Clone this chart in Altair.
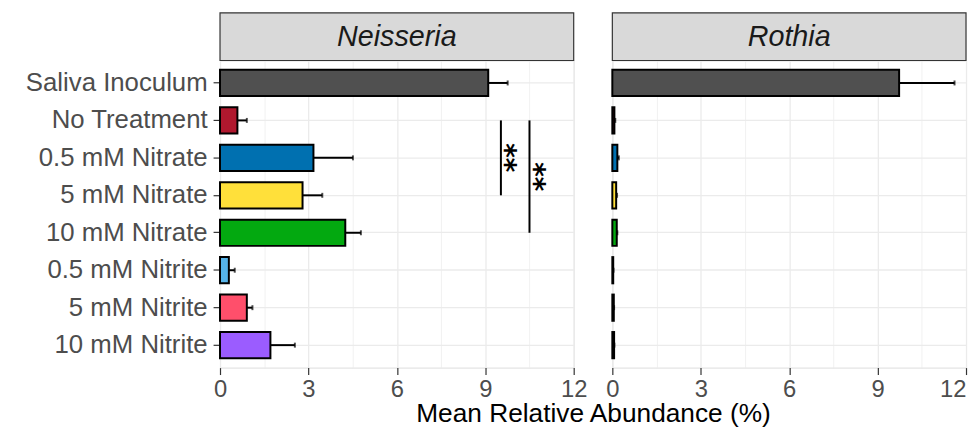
import altair as alt
import pandas as pd

categories = ["Saliva Inoculum", "No Treatment", "0.5 mM Nitrate", "5 mM Nitrate",
              "10 mM Nitrate", "0.5 mM Nitrite", "5 mM Nitrite", "10 mM Nitrite"]
colors = ["#505050", "#B0182E", "#0070B0", "#FFE03A", "#03A910", "#56B4E9", "#FF4F6B", "#9B5CFF"]

neisseria_mean = [9.10, 0.59, 3.17, 2.80, 4.25, 0.30, 0.91, 1.71]
neisseria_sd = [0.66, 0.32, 1.34, 0.67, 0.53, 0.20, 0.19, 0.83]
rothia_mean = [9.73, 0.07, 0.17, 0.13, 0.15, 0.03, 0.05, 0.06]
rothia_sd = [1.88, 0.03, 0.05, 0.03, 0.02, 0.01, 0.01, 0.01]

x_ticks = [0, 3, 6, 9, 12]
x_grid = [0, 1.5, 3, 4.5, 6, 7.5, 9, 10.5, 12]

sig_x = [9.53, 10.50]
sig_from = ["No Treatment", "No Treatment"]
sig_to = ["5 mM Nitrate", "10 mM Nitrate"]
star_x = [9.64, 10.62]
star_row = ["0.5 mM Nitrate", "0.5 mM Nitrate"]
star_label = ["**", "**"]

W, H = 357, 310
FONT = "Liberation Sans"


def frame(means, sds):
    return pd.DataFrame({
        "treatment": categories,
        "mean": means,
        "upper": [m + s for m, s in zip(means, sds)],
    })


yscale = alt.Scale(domain=categories, paddingInner=0.3, paddingOuter=0.25)
xscale = alt.Scale(domain=[0, 12], nice=False, zero=True)
cscale = alt.Scale(domain=categories, range=colors)


def xaxis(title=None, title_x=None, last_right=False):
    kw = dict(
        values=x_grid,
        labelExpr="datum.value % 3 === 0 ? datum.label : ''",
        format="d",
        grid=True,
        gridColor="#EBEBEB",
        gridWidth={"condition": {"test": "datum.value % 3 !== 0", "value": 0.7}, "value": 1.3},
        tickOpacity={"condition": {"test": "datum.value % 3 !== 0", "value": 0}, "value": 1},
        tickColor="#333333",
        tickWidth=1.2,
        tickSize=7,
        labelColor="#4D4D4D",
        labelFontSize=24,
        labelFont=FONT,
        labelPadding=3,
        labelFlush=False,
        domain=False,
    )
    if last_right:
        kw["labelAlign"] = {"condition": {"test": "datum.value === 12", "value": "right"}, "value": "center"}
    if title is not None:
        kw.update(title=title, titleX=title_x, titleY=46, titleBaseline="middle",
                  titleFontSize=26.5, titleFont=FONT, titleFontWeight="normal",
                  titleColor="#000000", titleAlign="center")
    else:
        kw.update(title=None)
    return alt.Axis(**kw)


def yaxis(show_labels):
    kw = dict(title=None, grid=True, gridColor="#EBEBEB", gridWidth=1.3, domain=False)
    if show_labels:
        kw.update(labels=True, ticks=True, tickColor="#333333", tickWidth=1.2, tickSize=7,
                  labelColor="#4D4D4D", labelFontSize=26, labelFont=FONT, labelPadding=6,
                  labelLimit=300, minExtent=205, maxExtent=205)
    else:
        kw.update(labels=False, ticks=False)
    return alt.Axis(**kw)


def panel(genus, means, sds, show_labels, title=None, title_x=None, extra=None, last_right=False):
    df = frame(means, sds)
    base = alt.Chart(df)
    y = alt.Y("treatment:N", scale=yscale, sort=categories, axis=yaxis(show_labels))
    bars = base.mark_bar(stroke="black", strokeWidth=2).encode(
        x=alt.X("mean:Q", scale=xscale, axis=xaxis(title, title_x, last_right)),
        y=y,
        fill=alt.Fill("treatment:N", scale=cscale, legend=None),
    )
    err = base.mark_rule(color="black", strokeWidth=2).encode(
        x="mean:Q", x2="upper:Q", y=alt.Y("treatment:N", sort=categories),
    )
    cap = base.mark_tick(color="black", thickness=2, size=5, orient="vertical").encode(
        x="upper:Q", y=alt.Y("treatment:N", sort=categories),
    )
    strip_df = pd.DataFrame({"genus": [genus]})
    strip = alt.Chart(strip_df).mark_rect(fill="#D9D9D9", stroke="#333333", strokeWidth=1.2).encode(
        x=alt.value(0), x2=alt.value(W), y=alt.value(-48), y2=alt.value(0)
    )
    strip_text = alt.Chart(strip_df).mark_text(
        fontSize=29, font=FONT, fontStyle="italic", color="#1A1A1A",
        align="center", baseline="middle"
    ).encode(x=alt.value(W / 2), y=alt.value(-24), text="genus:N")
    layers = [bars, err, cap]
    if extra:
        layers += extra
    layers += [strip, strip_text]
    return alt.layer(*layers).properties(width=W, height=H)


sig_df = pd.DataFrame({"x": sig_x, "y1": sig_from, "y2": sig_to})
sig_lines = alt.Chart(sig_df).mark_rule(color="black", strokeWidth=2).encode(
    x=alt.X("x:Q"), y=alt.Y("y1:N", sort=categories), y2="y2:N"
)
star_df = pd.DataFrame({"x": star_x, "row": star_row, "label": star_label})
stars1 = alt.Chart(star_df.iloc[[0]]).mark_text(
    font="DejaVu Sans", fontSize=28, fontWeight="bold", angle=90, align="center",
    baseline="middle", color="black", dx=0
).encode(x="x:Q", y=alt.Y("row:N", sort=categories), text="label:N")
stars2 = alt.Chart(star_df.iloc[[1]]).mark_text(
    font="DejaVu Sans", fontSize=28, fontWeight="bold", angle=90, align="center",
    baseline="middle", color="black", dx=19
).encode(x="x:Q", y=alt.Y("row:N", sort=categories), text="label:N")

left = panel("Neisseria", neisseria_mean, neisseria_sd, True,
             title="Mean Relative Abundance (%)", title_x=376.5,
             extra=[sig_lines, stars1, stars2])
right = panel("Rothia", rothia_mean, rothia_sd, False, last_right=True)

chart = alt.hconcat(left, right, spacing=39, bounds="flush").properties(
    padding={"left": 8, "top": 1, "right": 0, "bottom": 0}
).configure_view(stroke="#333333", strokeWidth=1.2).configure(background="white")

chart.save("out.html", embed_options={"renderer": "svg", "actions": False})
